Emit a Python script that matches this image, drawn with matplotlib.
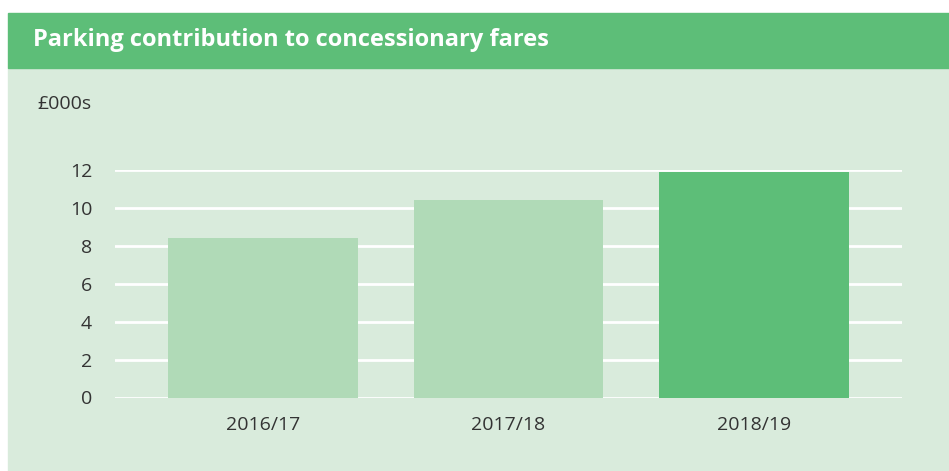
import matplotlib
matplotlib.use('Agg')
import matplotlib.pyplot as plt
from matplotlib.patches import Rectangle

# Chart data
years = ['2016/17', '2017/18', '2018/19']
values = [8.4, 10.4, 11.9]
bar_colors = ['#b0dab7', '#b0dab7', '#5dbe78']
y_ticks = [0, 2, 4, 6, 8, 10, 12]

W, H = 949, 471
fig = plt.figure(figsize=(W / 100, H / 100), dpi=100)
fig.patch.set_facecolor('white')

# panel background and header band (drawn behind the axes)
fig.patches.append(Rectangle((8 / W, 0), 1 - 8 / W, (H - 68) / H,
                             transform=fig.transFigure, color='#d9ebdc', zorder=-10))
fig.patches.append(Rectangle((8 / W, (H - 68) / H), 1 - 8 / W, 55 / H,
                             transform=fig.transFigure, color='#5dbe78', zorder=-10))
fig.text(33 / W, 1 - 40 / H, 'Parking contribution to concessionary fares',
         color='white', fontsize=17, fontweight='bold', family='Open Sans',
         va='center', ha='left')
fig.text(37 / W, 1 - 104 / H, '£000s', color='#333333', fontsize=14,
         family='Open Sans', va='center', ha='left')

ax = fig.add_axes([115 / W, 73.5 / H, 787 / W, 227.5 / H])
ax.set_facecolor('none')
x = list(range(len(years)))
ax.bar(x, values, width=0.774, color=bar_colors, zorder=3)
ax.set_xlim(-0.603, 2.603)
ax.set_ylim(0, 12)
ax.set_yticks(y_ticks)
ax.set_xticks(x)
ax.set_xticklabels(years)
ax.grid(axis='y', color='white', linewidth=2, zorder=1)
ax.set_axisbelow(True)
for s in ax.spines.values():
    s.set_visible(False)
ax.tick_params(length=0, labelsize=14, labelcolor='#333333')
ax.tick_params(axis='y', pad=16.5)
ax.tick_params(axis='x', pad=13)
for lbl in ax.get_xticklabels() + ax.get_yticklabels():
    lbl.set_family('Open Sans')

fig.savefig('out.png', dpi=100, facecolor=fig.get_facecolor())
